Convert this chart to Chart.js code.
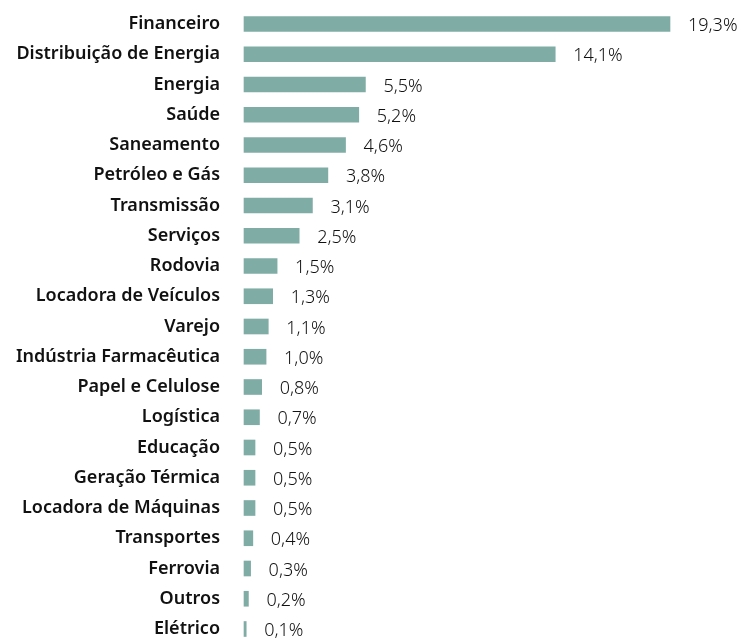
<!DOCTYPE html>
<html>
<head>
<meta charset="utf-8">
<script src="https://cdn.jsdelivr.net/npm/chart.js@4"></script>
<style>
  body { margin: 0; background: #fff; }
  canvas { display: block; }
</style>
</head>
<body>
<canvas id="sectorChart" width="742" height="640"></canvas>
<script>
const sectors = [
  'Financeiro', 'Distribuição de Energia', 'Energia', 'Saúde', 'Saneamento',
  'Petróleo e Gás', 'Transmissão', 'Serviços', 'Rodovia', 'Locadora de Veículos',
  'Varejo', 'Indústria Farmacêutica', 'Papel e Celulose', 'Logística', 'Educação',
  'Geração Térmica', 'Locadora de Máquinas', 'Transportes', 'Ferrovia', 'Outros', 'Elétrico'
];
const shares = [19.3, 14.1, 5.5, 5.2, 4.6, 3.8, 3.1, 2.5, 1.5, 1.3, 1.1, 1.0, 0.8, 0.7, 0.5, 0.5, 0.5, 0.4, 0.3, 0.2, 0.1];

const barColor = '#80aca6';

// writes "19,3%" after each bar
const valueLabels = {
  id: 'valueLabels',
  afterDatasetsDraw(chart) {
    const ctx = chart.ctx;
    const meta = chart.getDatasetMeta(0);
    ctx.save();
    ctx.font = '300 18px "Noto Sans"';
    ctx.fillStyle = '#111';
    ctx.textAlign = 'left';
    ctx.textBaseline = 'middle';
    meta.data.forEach((bar, i) => {
      const txt = shares[i].toFixed(1).replace('.', ',') + '%';
      ctx.fillText(txt, bar.x + 18, bar.y + 2);
    });
    ctx.restore();
  }
};

new Chart(document.getElementById('sectorChart'), {
  type: 'bar',
  data: {
    labels: sectors,
    datasets: [{
      data: shares,
      backgroundColor: barColor,
      barThickness: 15,
      clip: false,
    }],
  },
  options: {
    indexAxis: 'y',
    responsive: false,
    animation: false,
    layout: { padding: { top: 24, bottom: 11, right: 72, left: 0 } },
    plugins: { legend: { display: false }, tooltip: { enabled: false } },
    scales: {
      x: { display: false, min: 0, max: 19.3 },
      y: {
        offset: false,
        grid: { display: false, drawTicks: false },
        border: { display: false },
        afterFit(scale) {
          scale.width = 244;
          scale.paddingTop = 0;
          scale.paddingBottom = 0;
        },
        ticks: {
          padding: 24,
          color: '#111',
          font: { family: '"Noto Sans"', size: 18, weight: '600' },
        },
      },
    },
  },
  plugins: [valueLabels],
});
</script>
</body>
</html>
